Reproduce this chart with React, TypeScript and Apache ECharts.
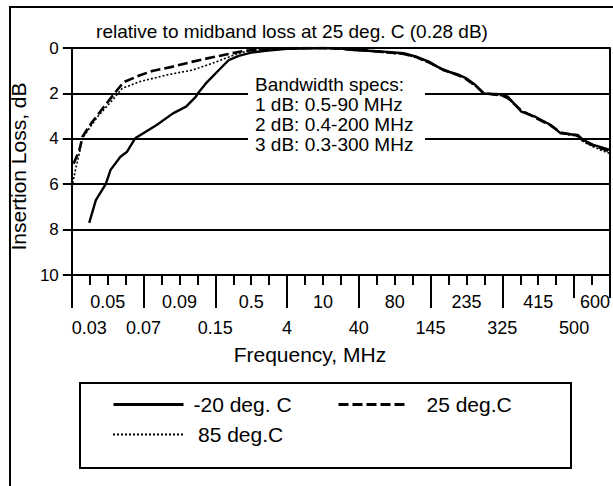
import React, { useEffect, useRef } from 'react';
import * as echarts from 'echarts';

// Axis positions (0..30 on the segmented frequency axis) and insertion loss (dB)
const coldX = [0.97, 1.34, 1.89, 2.16, 2.71, 3.08, 3.53, 4.1, 4.73, 5.64, 6.37, 6.92, 7.02, 7.47, 8.2, 8.75, 9.3, 10.0, 10.8, 12.0, 13.0, 14.0, 15.0, 15.7, 16.5, 17.4, 18.5, 19.2, 19.9, 20.7, 21.6, 22.0, 22.5, 22.95, 23.5, 23.96, 24.3, 25.05, 25.8, 26.7, 27.25, 28.2, 28.5, 29.07, 30];
const coldLoss = [7.7, 6.7, 6.0, 5.37, 4.79, 4.57, 3.98, 3.7, 3.39, 2.88, 2.58, 2.14, 2.0, 1.56, 0.97, 0.53, 0.35, 0.2, 0.12, 0.04, 0.02, 0.0, 0.02, 0.09, 0.12, 0.16, 0.23, 0.38, 0.6, 0.97, 1.19, 1.34, 1.63, 2.0, 2.02, 2.04, 2.14, 2.8, 3.02, 3.39, 3.76, 3.83, 4.05, 4.27, 4.49];

const roomX = [0.1, 0.42, 0.6, 1.1, 1.8, 2.53, 2.9, 3.8, 4.54, 5.64, 6.74, 7.84, 8.94, 9.67, 10.77, 12.0, 13.0, 14.0, 15.0, 15.7, 16.5, 17.4, 18.5, 19.2, 19.9, 20.7, 21.6, 22.0, 22.5, 22.95, 23.5, 23.96, 24.3, 25.05, 25.8, 26.7, 27.25, 28.2, 28.5, 29.07, 30];
const roomLoss = [5.1, 4.5, 3.9, 3.3, 2.58, 1.85, 1.5, 1.2, 1.0, 0.82, 0.6, 0.41, 0.23, 0.12, 0.06, 0.02, 0.0, 0.0, 0.03, 0.07, 0.11, 0.18, 0.26, 0.4, 0.63, 0.95, 1.22, 1.38, 1.66, 1.98, 2.05, 2.08, 2.2, 2.75, 3.05, 3.42, 3.72, 3.86, 4.1, 4.3, 4.55];

const hotX = [0.05, 0.24, 0.42, 0.51, 0.6, 1.43, 2.35, 2.8, 3.8, 5.27, 6.74, 7.84, 8.57, 9.29, 10.04, 11.5, 13.0, 14.0, 15.0, 15.7, 16.5, 17.4, 18.5, 19.2, 19.9, 20.7, 21.6, 22.0, 22.5, 22.95, 23.5, 23.96, 24.3, 25.05, 25.8, 26.7, 27.25, 28.2, 28.5, 29.07, 29.5, 30];
const hotLoss = [5.95, 5.23, 4.63, 4.27, 3.97, 3.03, 2.22, 1.78, 1.48, 1.19, 0.97, 0.67, 0.45, 0.23, 0.09, 0.03, 0.0, 0.0, 0.04, 0.1, 0.13, 0.2, 0.27, 0.42, 0.65, 0.98, 1.2, 1.36, 1.68, 2.0, 2.06, 2.1, 2.22, 2.78, 3.0, 3.4, 3.74, 3.9, 4.12, 4.35, 4.5, 4.65];

const seriesNames = ['-20 deg. C', '25 deg.C', '85 deg.C'];

const lowerTickLabels = ['0.03', '0.07', '0.15', '4', '40', '145', '325', '500'];
const lowerTickPos = [0, 4, 8, 12, 16, 20, 24, 28];
const upperTickLabels = ['0.05', '0.09', '0.5', '10', '80', '235', '415', '600'];
const upperTickPos = [2, 6, 10, 14, 18, 22, 26, 30];
const minorTickPos = Array.from({ length: 31 }, (_, i) => i);
const majorTickPos = [0, 4, 8, 12, 16, 20, 24];
const endTickPos = [28, 30];

const titleText = 'relative to midband loss at 25 deg. C (0.28 dB)';
const bandwidthLines = ['Bandwidth specs:', '1 dB: 0.5-90 MHz', '2 dB: 0.4-200 MHz', '3 dB: 0.3-300 MHz'];

const FONT = '"Liberation Sans", Arial, sans-serif';

const zip = (xs: number[], ys: number[]) => xs.map((x, i) => [x, ys[i]]);

export default function App() {
  const ref = useRef<HTMLDivElement>(null);
  useEffect(() => {
    if (!ref.current) return;
    const chart = echarts.init(ref.current, null, { renderer: 'svg' });
    const black = '#000';
    const lowerMap: Record<string, string> = {};
    lowerTickPos.forEach((p, i) => (lowerMap[String(p)] = lowerTickLabels[i]));
    const upperMap: Record<string, string> = {};
    upperTickPos.forEach((p, i) => (upperMap[String(p)] = upperTickLabels[i]));

    const baseX = {
      type: 'value',
      min: 0,
      max: 30,
      position: 'bottom',
      gridIndex: 0,
      splitLine: { show: false },
    };

    const legendBase = {
      padding: 0,
      itemHeight: 12,
      itemStyle: { opacity: 0, borderWidth: 0 },
    };

    chart.setOption({
      animation: false,
      backgroundColor: '#fff',
      grid: { left: 64, top: 48, width: 546, height: 227, containLabel: false },
      xAxis: [
        {
          ...baseX,
          axisLine: { show: true, onZero: false, lineStyle: { color: black, width: 2 } },
          axisTick: { show: true, customValues: minorTickPos, length: 10, lineStyle: { color: black, width: 2 } },
          axisLabel: { show: false },
          name: 'Frequency, MHz',
          nameLocation: 'middle',
          nameGap: 69,
          nameTextStyle: { fontFamily: FONT, fontSize: 21, color: black, padding: [0, 62, 0, 0] },
        },
        {
          ...baseX,
          axisLine: { show: false, onZero: false },
          axisTick: { show: true, customValues: majorTickPos, length: 33, lineStyle: { color: black, width: 2 } },
          axisLabel: {
            show: true,
            customValues: lowerTickPos,
            margin: 44,
            fontFamily: FONT,
            fontSize: 18,
            color: black,
            alignMinLabel: 'left',
            formatter: (v: number) => lowerMap[String(v)] ?? '',
          },
        },
        {
          ...baseX,
          axisLine: { show: false, onZero: false },
          axisTick: { show: true, customValues: endTickPos, length: 23, lineStyle: { color: black, width: 2 } },
          axisLabel: {
            show: true,
            customValues: upperTickPos,
            margin: 18,
            fontFamily: FONT,
            fontSize: 18,
            color: black,
            alignMaxLabel: 'right',
            formatter: (v: number) => upperMap[String(v)] ?? '',
          },
        },
      ],
      yAxis: [
        {
          type: 'value',
          inverse: true,
          min: 0,
          max: 10,
          interval: 2,
          position: 'left',
          axisLine: { show: true, onZero: false, lineStyle: { color: black, width: 2 } },
          axisTick: { show: true, length: 9, lineStyle: { color: black, width: 2 } },
          axisLabel: { margin: 13, fontFamily: FONT, fontSize: 17, color: black },
          splitLine: { show: true, lineStyle: { color: black, width: 2 } },
          name: 'Insertion Loss, dB',
          nameLocation: 'middle',
          nameGap: 30,
          nameTextStyle: { fontFamily: FONT, fontSize: 21, color: black, padding: [0, 10, 0, 0] },
        },
        {
          type: 'value',
          inverse: true,
          min: 0,
          max: 10,
          interval: 2,
          position: 'right',
          axisLine: { show: true, onZero: false, lineStyle: { color: black, width: 2 } },
          axisTick: { show: false },
          axisLabel: { show: false },
          splitLine: { show: false },
        },
      ],
      legend: [
        {
          ...legendBase,
          data: [seriesNames[0]],
          left: 112,
          top: 394,
          itemWidth: 70,
          lineStyle: { width: 3, opacity: 1 },
          textStyle: { fontFamily: FONT, fontSize: 21, color: black, padding: [0, 0, 0, 5] },
        },
        {
          ...legendBase,
          data: [seriesNames[1]],
          left: 337,
          top: 394,
          itemWidth: 68,
          lineStyle: { width: 3, opacity: 1 },
          textStyle: { fontFamily: FONT, fontSize: 21, color: black, padding: [0, 0, 0, 15] },
        },
        {
          ...legendBase,
          data: [seriesNames[2]],
          left: 112,
          top: 424,
          itemWidth: 70,
          lineStyle: { width: 2, opacity: 1 },
          textStyle: { fontFamily: FONT, fontSize: 21, color: black, padding: [0, 0, 0, 10] },
        },
      ],
      series: [
        {
          name: seriesNames[2],
          type: 'line',
          data: zip(hotX, hotLoss),
          symbol: 'none',
          lineStyle: { color: black, width: 1.6, type: [2, 2] },
          itemStyle: { color: black },
        },
        {
          name: seriesNames[1],
          type: 'line',
          data: zip(roomX, roomLoss),
          symbol: 'none',
          lineStyle: { color: black, width: 2.6, type: [10, 4] },
          itemStyle: { color: black },
        },
        {
          name: seriesNames[0],
          type: 'line',
          data: zip(coldX, coldLoss),
          symbol: 'none',
          lineStyle: { color: black, width: 2.4, type: 'solid' },
          itemStyle: { color: black },
        },
      ],
      graphic: [
        {
          type: 'rect',
          silent: true,
          shape: { x: 10, y: 7, width: 640, height: 520 },
          style: { fill: 'none', stroke: black, lineWidth: 2 },
        },
        {
          type: 'text',
          x: 292,
          y: 31,
          style: {
            text: titleText,
            fontFamily: FONT,
            fontSize: 19,
            fill: black,
            align: 'center',
            verticalAlign: 'middle',
            textAlign: 'center',
            textVerticalAlign: 'middle',
          },
        },
        {
          type: 'rect',
          z: 5,
          shape: { x: 248, y: 74, width: 177, height: 82 },
          style: { fill: '#fff' },
        },
        ...bandwidthLines.map((t, i) => ({
          type: 'text',
          z: 6,
          x: 255,
          y: 84.5 + i * 20,
          style: {
            text: t,
            fontFamily: FONT,
            fontSize: 19,
            fill: black,
            align: 'left',
            verticalAlign: 'middle',
            textAlign: 'left',
            textVerticalAlign: 'middle',
          },
        })),
        {
          type: 'rect',
          silent: true,
          shape: { x: 80, y: 383, width: 491, height: 85 },
          style: { fill: 'none', stroke: black, lineWidth: 2 },
        },
      ],
    });
    return () => chart.dispose();
  }, []);
  return <div ref={ref} style={{ position: 'fixed', left: 0, top: 0, width: 613, height: 486 }} />;
}
